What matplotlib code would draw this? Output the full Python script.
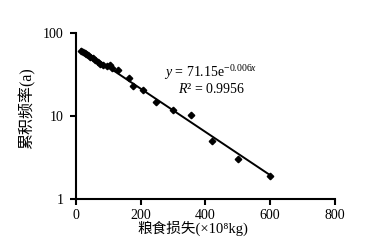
import matplotlib
matplotlib.use("Agg")
import matplotlib.pyplot as plt
import numpy as np

# data
loss = [17, 22, 27, 32, 38, 45, 52, 60, 68, 76, 85, 95, 105, 112, 130, 163, 175, 206, 248, 300, 356, 422, 502, 599]
freq = [61, 59, 57, 56, 54, 52, 50, 47, 45, 43, 41, 40, 41, 38, 36, 28.5, 23, 20.6, 14.8, 11.9, 10.3, 5.0, 3.03, 1.91]
fit_a = 71.15
fit_b = -0.006
xticks = [0, 200, 400, 600, 800]
yticks = [1, 10, 100]
ytick_labels = ["1", "10", "100"]

plt.rcParams["mathtext.fontset"] = "custom"
plt.rcParams["mathtext.rm"] = "Liberation Serif"
plt.rcParams["mathtext.it"] = "Liberation Serif:italic"
plt.rcParams["mathtext.bf"] = "Liberation Serif:bold"

serif = ["Liberation Serif", "DejaVu Serif"]
mixed = ["Liberation Serif", "Noto Sans CJK SC", "DejaVu Sans"]

fig = plt.figure(figsize=(3.7, 2.47), dpi=100)
ax = fig.add_axes([0.205, 0.194, 0.70, 0.672])

xf = np.linspace(min(loss), max(loss), 200)
ax.plot(xf, fit_a * np.exp(fit_b * xf), color="black", lw=1.4, zorder=2)
ax.plot(loss, freq, linestyle="none", marker="D", ms=3.3, color="black", zorder=3)

ax.set_yscale("log")
ax.set_xlim(0, 800)
ax.set_ylim(1, 100)
ax.set_xticks(xticks)
ax.set_xticklabels([str(t) for t in xticks], fontfamily=serif, fontsize=10)
ax.set_yticks(yticks)
ax.set_yticklabels(ytick_labels, fontfamily=serif, fontsize=10)
ax.yaxis.set_minor_locator(matplotlib.ticker.NullLocator())

for s in ["top", "right"]:
    ax.spines[s].set_visible(False)
for s in ["left", "bottom"]:
    ax.spines[s].set_linewidth(1.5)
ax.tick_params(direction="out", length=4, width=1.5)
ax.tick_params(axis="y", pad=5)
ax.tick_params(axis="x", pad=3)

ax.set_xlabel("粮食损失(×10⁸kg)", fontfamily=mixed, fontsize=10.5)
ax.xaxis.set_label_coords(0.45, -0.13)
ax.set_ylabel("累积频率(a)", fontfamily=mixed, fontsize=11.5)
ax.yaxis.set_label_coords(-0.155, 0.55)

ax.text(0.34, 0.765, r"$y$ = 71.15e$^{-0.006x}$", transform=ax.transAxes,
        fontfamily=serif, fontsize=10, ha="left", va="center")
ax.text(0.395, 0.665, r"$R$² = 0.9956", transform=ax.transAxes,
        fontfamily=serif, fontsize=10, ha="left", va="center")

fig.savefig("out.png", dpi=100)
